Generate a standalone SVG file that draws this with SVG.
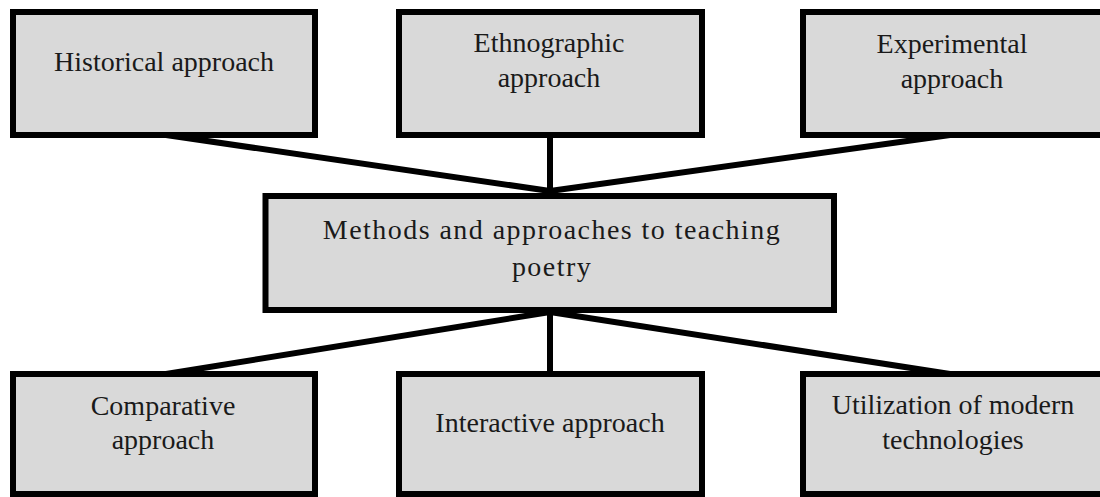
<svg xmlns="http://www.w3.org/2000/svg" width="1100" height="497" viewBox="0 0 1100 497">
<style>
.box{fill:#d9d9d9;stroke:#000;stroke-width:6}
.lbl{font-family:'Liberation Serif','Tinos','Times New Roman','Noto Serif','DejaVu Serif',serif;font-size:28px;fill:#1a1a1a;text-anchor:middle}
.wide{letter-spacing:1.45px}
.conn{stroke:#000;stroke-width:6;fill:none}
</style>
<rect width="1100" height="497" fill="#fff"/>
<g id="connectors">
<line class="conn" x1="166" y1="135" x2="550" y2="191"/>
<line class="conn" x1="550" y1="135" x2="550" y2="193"/>
<line class="conn" x1="950" y1="135" x2="550" y2="191"/>
<line class="conn" x1="550" y1="312" x2="166" y2="374"/>
<line class="conn" x1="550" y1="312" x2="550" y2="374"/>
<line class="conn" x1="550" y1="312" x2="950" y2="374"/>
</g>
<g id="historical">
<rect class="box" x="13" y="12" width="302" height="123"/>
<text class="lbl" x="164" y="71">Historical approach</text>
</g>
<g id="ethnographic">
<rect class="box" x="399" y="12" width="303" height="123"/>
<text class="lbl" x="549" y="52">Ethnographic</text>
<text class="lbl" x="549" y="87">approach</text>
</g>
<g id="experimental">
<rect class="box" x="803" y="12" width="310" height="123"/>
<text class="lbl" x="952" y="53">Experimental</text>
<text class="lbl" x="952" y="88">approach</text>
</g>
<g id="center">
<rect class="box" x="265.5" y="196" width="568.5" height="114"/>
<text class="lbl wide" x="552" y="238.5">Methods and approaches to teaching</text>
<text class="lbl wide" x="552" y="276">poetry</text>
</g>
<g id="comparative">
<rect class="box" x="13" y="374" width="302" height="120"/>
<text class="lbl" x="163" y="415">Comparative</text>
<text class="lbl" x="163" y="449">approach</text>
</g>
<g id="interactive">
<rect class="box" x="399" y="374" width="303" height="120"/>
<text class="lbl" x="550" y="432">Interactive approach</text>
</g>
<g id="utilization">
<rect class="box" x="803" y="374" width="310" height="120"/>
<text class="lbl" x="953" y="414">Utilization of modern</text>
<text class="lbl" x="953" y="449">technologies</text>
</g>
</svg>
